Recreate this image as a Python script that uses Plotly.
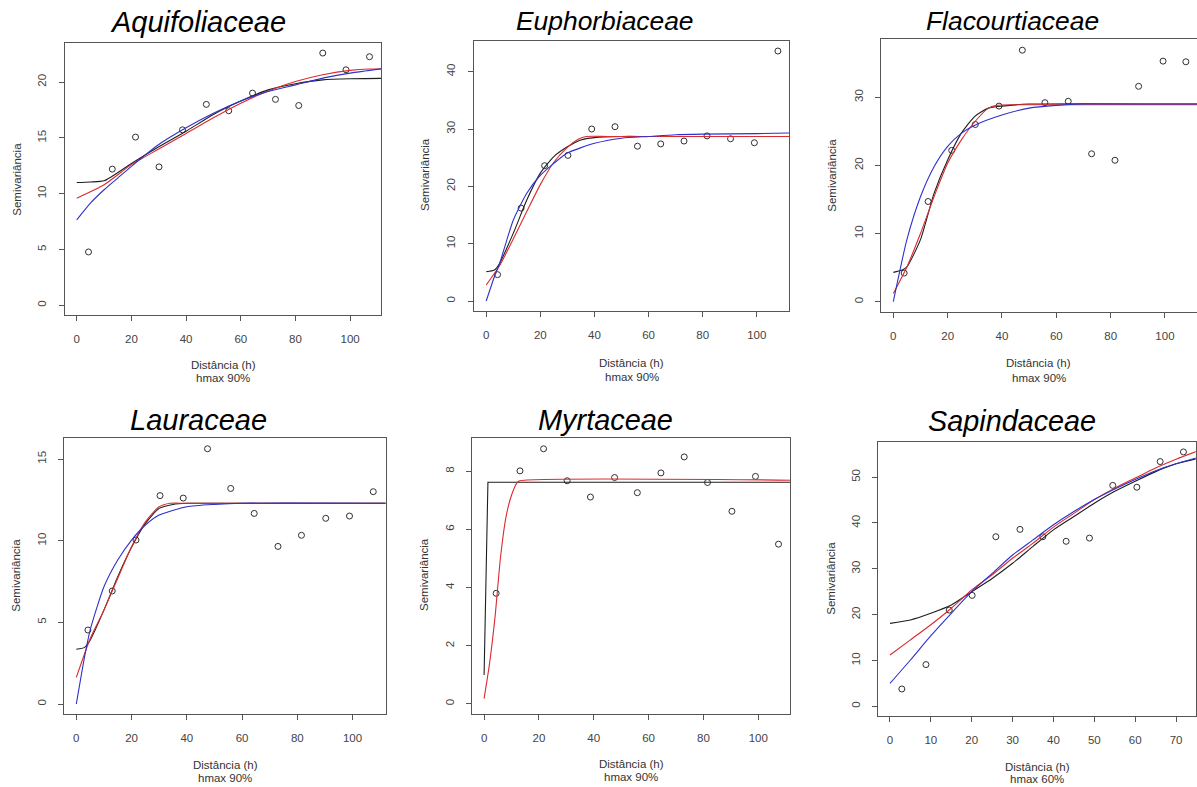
import plotly.graph_objects as go

W, H = 1197, 787

titles = ["Aquifoliaceae", "Euphorbiaceae", "Flacourtiaceae", "Lauraceae", "Myrtaceae", "Sapindaceae"]
hmax_labels = ["hmax 90%", "hmax 90%", "hmax 90%", "hmax 90%", "hmax 90%", "hmax 60%"]

# ---- empirical semivariogram points ----
aqui_lag = [4.3, 13.0, 21.5, 30.1, 38.7, 47.4, 55.6, 64.3, 72.7, 81.2, 90.0, 98.5, 107.1]
aqui_gam = [4.78, 12.2, 15.07, 12.4, 15.72, 18.0, 17.43, 19.01, 18.45, 17.9, 22.6, 21.1, 22.27]
euph_lag = [4.2, 12.9, 21.6, 30.2, 39.0, 47.6, 55.9, 64.5, 73.1, 81.6, 90.3, 99.1, 107.8]
euph_gam = [4.6, 16.2, 23.6, 25.4, 30.0, 30.4, 27.0, 27.4, 27.9, 28.8, 28.3, 27.6, 43.6]
flac_lag = [4.0, 12.8, 21.5, 30.2, 38.9, 47.5, 55.8, 64.4, 73.0, 81.6, 90.3, 99.3, 107.7]
flac_gam = [4.2, 14.7, 22.2, 26.0, 28.7, 36.9, 29.2, 29.4, 21.7, 20.75, 31.6, 35.3, 35.2]
laur_lag = [4.2, 13.0, 21.6, 30.3, 38.7, 47.5, 55.9, 64.4, 73.0, 81.5, 90.3, 98.9, 107.5]
laur_gam = [4.53, 6.92, 10.04, 12.76, 12.61, 15.63, 13.2, 11.67, 9.65, 10.33, 11.37, 11.51, 13.0]
myrt_lag = [4.4, 13.1, 21.7, 30.3, 38.8, 47.6, 55.9, 64.5, 73.0, 81.5, 90.4, 99.0, 107.4]
myrt_gam = [3.8, 8.01, 8.77, 7.67, 7.11, 7.78, 7.26, 7.94, 8.49, 7.61, 6.62, 7.82, 5.49]
sapi_lag = [2.9, 8.8, 14.5, 20.1, 25.9, 31.8, 37.4, 43.1, 48.8, 54.5, 60.4, 66.1, 71.8]
sapi_gam = [3.78, 9.1, 21.0, 24.2, 37.0, 38.6, 37.0, 36.0, 36.7, 48.2, 47.8, 53.4, 55.5]

# ---- fitted model curves ----
aqui_black_x = [0, 5, 10, 20, 30, 40, 50, 60, 70, 80, 90, 100, 112]
aqui_black_y = [11.0, 11.05, 11.15, 12.7, 14.2, 15.6, 17.1, 18.3, 19.3, 19.85, 20.2, 20.3, 20.33]
aqui_red_x = [0, 10, 20, 30, 40, 50, 60, 70, 80, 90, 100, 107, 112]
aqui_red_y = [9.6, 10.8, 12.6, 14.0, 15.4, 16.8, 18.1, 19.2, 20.05, 20.65, 21.05, 21.17, 21.17]
aqui_blue_x = [0, 5, 10, 15, 20, 30, 40, 50, 60, 70, 80, 90, 100, 112]
aqui_blue_y = [7.65, 9.15, 10.35, 11.4, 12.45, 14.4, 15.9, 17.2, 18.3, 19.15, 19.75, 20.35, 20.8, 21.2]

euph_black_x = [0, 3, 5, 10, 15, 20, 25, 30, 35, 40, 50, 60, 112]
euph_black_y = [5.1, 5.4, 6.6, 11.8, 17.6, 22.3, 25.2, 26.9, 28.1, 28.5, 28.7, 28.7, 28.7]
euph_red_x = [0, 5, 10, 15, 20, 25, 30, 34, 37, 45, 112]
euph_red_y = [2.8, 6.2, 10.8, 15.6, 20.3, 24.2, 26.8, 28.2, 28.7, 28.7, 28.7]
euph_blue_x = [0, 3, 5, 10, 15, 20, 25, 30, 40, 50, 60, 70, 80, 100, 112]
euph_blue_y = [0.0, 4.2, 6.6, 14.1, 18.8, 21.9, 24.0, 25.8, 27.5, 28.4, 28.7, 29.0, 29.1, 29.2, 29.3]

flac_black_x = [0, 3, 5, 10, 15, 20, 25, 30, 35, 40, 50, 112]
flac_black_y = [4.3, 4.6, 5.1, 9.1, 15.9, 20.8, 24.7, 27.2, 28.4, 28.7, 29.0, 29.0]
flac_red_x = [0, 5, 10, 15, 20, 25, 30, 35, 38, 45, 112]
flac_red_y = [1.2, 5.1, 10.0, 15.4, 20.3, 23.7, 26.4, 28.4, 28.8, 28.9, 28.9]
flac_blue_x = [0, 5, 10, 15, 20, 25, 30, 40, 50, 60, 70, 80, 112]
flac_blue_y = [0.0, 9.1, 15.4, 19.8, 22.8, 24.7, 25.9, 27.4, 28.4, 28.8, 29.0, 29.0, 29.0]

laur_black_x = [0, 3, 5, 10, 15, 20, 25, 30, 35, 40, 50, 112]
laur_black_y = [3.35, 3.47, 3.9, 5.75, 7.8, 9.6, 11.06, 11.98, 12.22, 12.29, 12.29, 12.29]
laur_red_x = [0, 5, 10, 15, 20, 25, 30, 34, 40, 112]
laur_red_y = [1.63, 4.0, 5.75, 7.7, 9.63, 11.16, 12.08, 12.29, 12.29, 12.29]
laur_blue_x = [0, 3, 5, 10, 15, 20, 25, 30, 40, 50, 60, 112]
laur_blue_y = [0.0, 2.9, 4.53, 7.18, 8.82, 10.04, 10.96, 11.57, 12.08, 12.22, 12.29, 12.29]

myrt_black_x = [0, 0.3, 0.8, 1.4, 112]
myrt_black_y = [0.99, 2.5, 5.5, 7.62, 7.62]
myrt_red_x = [0, 2, 4, 6, 8, 10, 12, 13, 112]
myrt_red_y = [0.18, 1.39, 2.99, 5.05, 6.43, 7.17, 7.6, 7.67, 7.69]

sapi_black_x = [0, 5, 10, 15, 20, 25, 30, 35, 40, 45, 50, 55, 60, 65, 70, 75]
sapi_black_y = [18.1, 18.85, 20.3, 22.1, 25.0, 27.9, 31.2, 34.9, 38.5, 41.4, 44.3, 46.9, 49.1, 51.2, 52.9, 54.0]
sapi_red_x = [0, 5, 10, 15, 20, 25, 30, 35, 40, 45, 50, 55, 60, 65, 70, 75]
sapi_red_y = [11.2, 14.5, 17.8, 21.4, 25.4, 28.7, 32.3, 35.6, 39.1, 42.1, 45.1, 47.6, 49.8, 52.0, 53.9, 55.6]
sapi_blue_x = [0, 5, 10, 15, 20, 25, 30, 35, 40, 45, 50, 55, 60, 65, 70, 75]
sapi_blue_y = [5.0, 10.1, 15.4, 20.3, 25.0, 29.0, 33.0, 36.3, 39.6, 42.5, 45.1, 47.4, 49.5, 51.4, 52.9, 54.2]

# y tick values for each panel
yticks = [[0, 5, 10, 15, 20], [0, 10, 20, 30, 40], [0, 10, 20, 30],
          [0, 5, 10, 15], [0, 2, 4, 6, 8], [0, 10, 20, 30, 40, 50]]
xticks = [[0, 20, 40, 60, 80, 100]] * 5 + [[0, 10, 20, 30, 40, 50, 60, 70]]

# ---- layout geometry (pixels) ----
boxes = [  # left, right, top, bottom
    (65, 381, 43, 315),
    (474, 789, 40.7, 311),
    (881.3, 1197, 39.3, 312.3),
    (64.3, 385.7, 438.3, 714.3),
    (472.3, 790.3, 438.3, 713.7),
    (878.3, 1195.7, 442.3, 716.3),
]
xranges = [[-4.3, 111.3], [-4.5, 111.9], [-4.42, 111.8], [-4.35, 112], [-4.3, 111.7], [-2.86, 74.8]]
yranges = [[-0.87, 23.5], [-1.74, 45.4], [-1.56, 38.5], [-0.63, 16.27], [-0.34, 9.13], [-2.18, 57.6]]
title_pos = [(198, 22), (605, 21), (1012, 21), (198, 420), (605, 420), (1012, 420.5)]
title_size = [29, 26.4, 26.4, 29, 28.9, 28.8]
xlab_pos = [(223, 365, 378), (631.5, 362.7, 376.7), (1038.7, 363.3, 377.7),
            (225, 765, 778.3), (631.3, 764, 777.3), (1037, 766.7, 779.3)]
ylab_pos = [(16.7, 179), (425, 175), (831.7, 175), (15.7, 575), (424, 575), (830.7, 578)]

points = [(aqui_lag, aqui_gam), (euph_lag, euph_gam), (flac_lag, flac_gam),
          (laur_lag, laur_gam), (myrt_lag, myrt_gam), (sapi_lag, sapi_gam)]
curves = [
    [(aqui_black_x, aqui_black_y, "black"), (aqui_red_x, aqui_red_y, "red"), (aqui_blue_x, aqui_blue_y, "blue")],
    [(euph_black_x, euph_black_y, "black"), (euph_red_x, euph_red_y, "red"), (euph_blue_x, euph_blue_y, "blue")],
    [(flac_black_x, flac_black_y, "black"), (flac_red_x, flac_red_y, "red"), (flac_blue_x, flac_blue_y, "blue")],
    [(laur_black_x, laur_black_y, "black"), (laur_red_x, laur_red_y, "red"), (laur_blue_x, laur_blue_y, "blue")],
    [(myrt_black_x, myrt_black_y, "black"), (myrt_red_x, myrt_red_y, "red")],
    [(sapi_black_x, sapi_black_y, "black"), (sapi_red_x, sapi_red_y, "red"), (sapi_blue_x, sapi_blue_y, "blue")],
]
colors = {"black": "#1e1e1e", "red": "#dc2a2e", "blue": "#2e30cc"}

FONT = "Liberation Sans, Arial, sans-serif"
fig = go.Figure()
annotations = []
layout_axes = {}

for i in range(6):
    n = i + 1
    xa = "x" if n == 1 else f"x{n}"
    ya = "y" if n == 1 else f"y{n}"
    l, r, t, b = boxes[i]
    lagx, gam = points[i]
    fig.add_trace(go.Scatter(
        x=lagx, y=gam, mode="markers", xaxis=xa, yaxis=ya, showlegend=False,
        marker=dict(symbol="circle-open", size=6, color="#303030", line=dict(width=1, color="#303030"))))
    for cx, cy, cname in curves[i]:
        shape = "linear" if (i == 4 and cname == "black") else "spline"
        fig.add_trace(go.Scatter(
            x=cx, y=cy, mode="lines", xaxis=xa, yaxis=ya, showlegend=False,
            line=dict(color=colors[cname], width=1.1, shape=shape, smoothing=0.6)))

    axis_common = dict(showline=True, linecolor="#555555", linewidth=1, ticks="outside",
                       ticklen=5, tickwidth=1, tickcolor="#555555", showgrid=False, zeroline=False,
                       tickfont=dict(family=FONT, size=11.5, color="#444444"), ticklabelstandoff=8)
    xkey = "xaxis" if n == 1 else f"xaxis{n}"
    ykey = "yaxis" if n == 1 else f"yaxis{n}"
    layout_axes[xkey] = dict(axis_common, domain=[l / W, min(r / W, 1.0)], range=xranges[i],
                             anchor=ya, tickvals=xticks[i], mirror=True)
    # Flacourtiaceae panel is cut off at the right edge: no right border line
    layout_axes[ykey] = dict(axis_common, domain=[1 - b / H, 1 - t / H], range=yranges[i],
                             anchor=xa, tickvals=yticks[i], tickangle=-90,
                             mirror=(i != 2))

    tx, ty = title_pos[i]
    annotations.append(dict(text=f"<i>{titles[i]}</i>", x=tx / W, y=1 - ty / H, xref="paper", yref="paper",
                            xanchor="center", yanchor="middle", showarrow=False,
                            font=dict(family=FONT, size=title_size[i], color="#000000")))
    lx, ly1, ly2 = xlab_pos[i]
    annotations.append(dict(text="Distância (h)", x=lx / W, y=1 - ly1 / H, xref="paper", yref="paper",
                            xanchor="center", yanchor="middle", showarrow=False,
                            font=dict(family=FONT, size=11.5, color="#333333")))
    annotations.append(dict(text=hmax_labels[i], x=lx / W, y=1 - ly2 / H, xref="paper", yref="paper",
                            xanchor="center", yanchor="middle", showarrow=False,
                            font=dict(family=FONT, size=11.5, color="#333333")))
    yx, yy = ylab_pos[i]
    annotations.append(dict(text="Semivariância", x=yx / W, y=1 - yy / H, xref="paper", yref="paper",
                            xanchor="center", yanchor="middle", showarrow=False, textangle=-90,
                            font=dict(family=FONT, size=11.5, color="#333333")))

fig.update_layout(
    width=W, height=H, margin=dict(l=0, r=0, t=0, b=0),
    paper_bgcolor="white", plot_bgcolor="white", hovermode=False,
    annotations=annotations, **layout_axes)

fig.write_html("out.html", config={"displayModeBar": False, "staticPlot": True},
               post_script="document.body.style.margin='0';document.body.style.overflow='hidden';")
